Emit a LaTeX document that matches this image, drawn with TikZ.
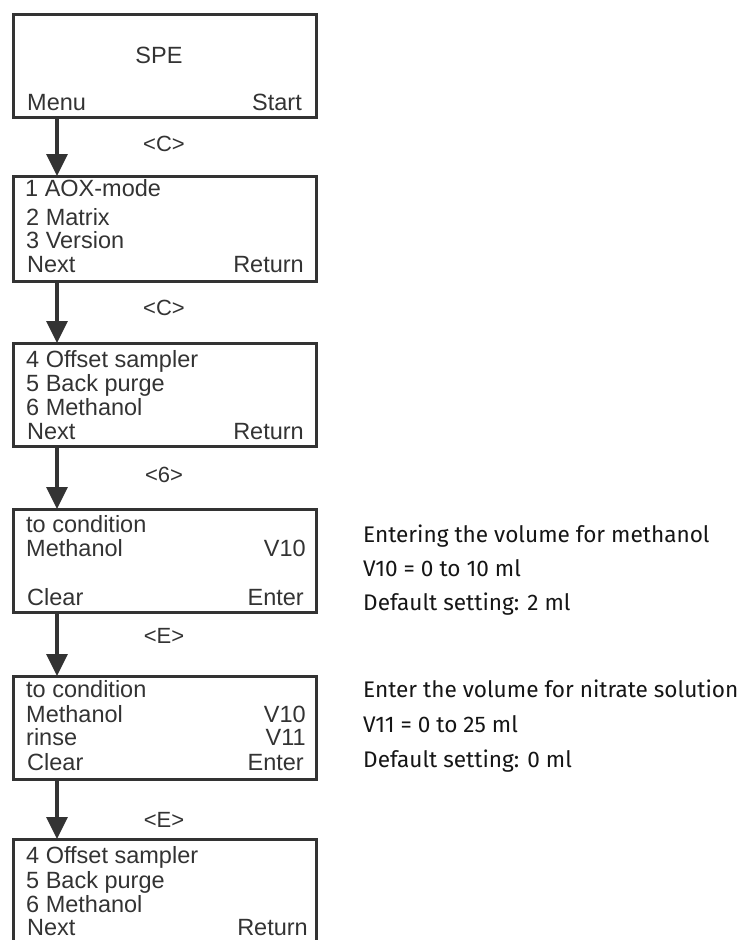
\documentclass[tikz,border=0pt]{standalone}
\usepackage{fontspec}
\setmainfont{Liberation Sans}
\newfontfamily\notefont{Fira Sans}
\usetikzlibrary{arrows.meta}
\definecolor{ink}{HTML}{333333}
\definecolor{notecol}{HTML}{151515}
\begin{document}
\begin{tikzpicture}[x=1pt,y=-1pt,
  screen/.style={draw=ink, line width=3pt, inner sep=0pt, outer sep=0pt, minimum width=303pt},
  lt/.style={anchor=base west, inner sep=0pt, text=ink, font=\fontsize{23.5}{24}\selectfont},
  rt/.style={anchor=base east, inner sep=0pt, text=ink, font=\fontsize{23.5}{24}\selectfont},
  ct/.style={anchor=base, inner sep=0pt, text=ink, font=\fontsize{23.5}{24}\selectfont},
  keylabel/.style={anchor=base, inner sep=0pt, text=ink, font=\fontsize{22}{24}\selectfont},
  notetext/.style={anchor=base west, inner sep=0pt, text=notecol, font=\notefont\fontsize{22.6}{24}\selectfont},
  flow/.style={draw=ink, line width=3.5pt, -{Triangle[width=21pt,length=22pt]}}
]
\useasboundingbox (0,0) rectangle (738,940);
\clip (0,0) rectangle (738,940);

% screens
\node[screen, minimum height=103pt] (b1) at (164.5,65.5) {};
\node[screen, minimum height=105pt] (b2) at (164.5,228.5) {};
\node[screen, minimum height=103pt] (b3) at (164.5,394.5) {};
\node[screen, minimum height=103pt] (b4) at (164.5,560.5) {};
\node[screen, minimum height=103pt] (b5) at (164.5,727.5) {};
\node[screen, minimum height=121pt] (b6) at (164.5,899.5) {};

% arrows
\coordinate (ax) at (57,0);
\draw[flow] (b1.south -| ax) -- (b2.north -| ax);
\draw[flow] (b2.south -| ax) -- (b3.north -| ax);
\draw[flow] (b3.south -| ax) -- (b4.north -| ax);
\draw[flow] (b4.south -| ax) -- (b5.north -| ax);
\draw[flow] (b5.south -| ax) -- (b6.north -| ax);

% key labels
\node[keylabel] (k1) at (164,151) {<C>};
\node[keylabel] (k2) at (164,315) {<C>};
\node[keylabel] (k3) at (164,482) {<6>};
\node[keylabel] (k4) at (164,643) {<E>};
\node[keylabel] (k5) at (164,827) {<E>};

% box 1
\node[ct] (t1a) at (159,63) {SPE};
\node[lt] (t1b) at (27,110) {Menu};
\node[rt] (t1c) at (302,110) {Start};
% box 2
\node[lt] (t2a) at (25,196) {1 AOX-mode};
\node[lt] (t2b) at (26,225) {2 Matrix};
\node[lt] (t2c) at (26,248) {3 Version};
\node[lt] (t2d) at (27,272) {Next};
\node[rt] (t2e) at (304,272) {Return};
% box 3
\node[lt] (t3a) at (26,367) {4 Offset sampler};
\node[lt] (t3b) at (26,391) {5 Back purge};
\node[lt] (t3c) at (26,415) {6 Methanol};
\node[lt] (t3d) at (27,439) {Next};
\node[rt] (t3e) at (304,439) {Return};
% box 4
\node[lt] (t4a) at (26,532) {to condition};
\node[lt] (t4b) at (26,556) {Methanol};
\node[rt] (t4c) at (306,556) {V10};
\node[lt] (t4d) at (27,605) {Clear};
\node[rt] (t4e) at (304,605) {Enter};
% box 5
\node[lt] (t5a) at (26,697) {to condition};
\node[lt] (t5b) at (26,722) {Methanol};
\node[rt] (t5c) at (306,722) {V10};
\node[lt] (t5d) at (26,745) {rinse};
\node[rt] (t5e) at (306,745) {V11};
\node[lt] (t5f) at (27,770) {Clear};
\node[rt] (t5g) at (304,770) {Enter};
% box 6
\node[lt] (t6a) at (26,863) {4 Offset sampler};
\node[lt] (t6b) at (26,888) {5 Back purge};
\node[lt] (t6c) at (26,912) {6 Methanol};
\node[lt] (t6d) at (27,935) {Next};
\node[rt] (t6e) at (308,935) {Return};

% notes
\node[notetext] (n1) at (363,542) {Entering the volume for methanol};
\node[notetext] (n2) at (363,576) {V10 = 0 to 10 ml};
\node[notetext] (n3) at (363,610) {Default setting: 2 ml};
\node[notetext] (n4) at (363,697) {Enter the volume for nitrate solution};
\node[notetext] (n5) at (363,732) {V11 = 0 to 25 ml};
\node[notetext] (n6) at (363,767) {Default setting: 0 ml};
\end{tikzpicture}
\end{document}
